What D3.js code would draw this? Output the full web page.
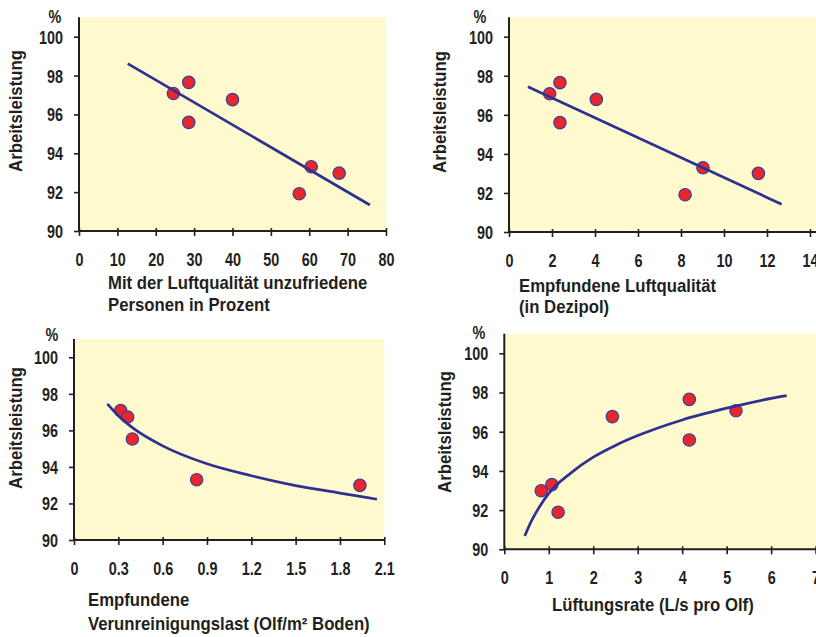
<!DOCTYPE html>
<html lang="de">
<head>
<meta charset="UTF-8">
<title>Arbeitsleistung und Luftqualität</title>
<style>
    body {
        margin: 0;
        padding: 0;
        background: #fff;
    }

    svg text {
        font-family: "Liberation Sans", Arial, sans-serif;
        font-weight: bold;
        fill: #231f20;
    }
</style>
</head>
<body>
<div id="chart"></div>
<script src="https://cdn.jsdelivr.net/npm/d3@7"></script>
<script>
    // y axis is the same for all four panels
    const yTicks = [90, 92, 94, 96, 98, 100];

    // panel 1: unzufriedene Personen (%)
    const dissatTicks = [0, 10, 20, 30, 40, 50, 60, 70, 80];
    const dissatX = [24.6, 28.6, 28.6, 40, 57.4, 60.5, 67.8];
    const dissatY = [97.08, 97.65, 95.59, 96.76, 91.92, 93.31, 92.98];
    const dissatFit = [[12.7, 98.61], [75.8, 91.34]];

    // panel 2: empfundene Luftqualität (Dezipol)
    const dezipolTicks = [0, 2, 4, 6, 8, 10, 12, 14];
    const dezipolX = [1.89, 2.37, 2.37, 4.06, 8.19, 9.02, 11.6];
    const dezipolY = [97.08, 97.65, 95.6, 96.79, 91.91, 93.29, 93.0];
    const dezipolFit = [[0.88, 97.44], [12.68, 91.42]];

    // panel 3: Verunreinigungslast (Olf/m²)
    const olfTicks = [0, 0.3, 0.6, 0.9, 1.2, 1.5, 1.8, 2.1];
    const olfTickLabels = ["0", "0.3", "0.6", "0.9", "1.2", "1.5", "1.8", "2.1"];
    const olfX = [0.316, 0.363, 0.395, 0.83, 1.935];
    const olfY = [97.08, 96.73, 95.53, 93.3, 92.99];
    const olfFit = [[0.226, 97.45], [0.3, 96.8], [0.4, 96.12], [0.6, 95.15], [0.9, 94.17],
        [1.2, 93.52], [1.5, 92.98], [1.8, 92.57], [2.05, 92.23]];

    // panel 4: Lüftungsrate (L/s pro Olf)
    const ventTicks = [0, 1, 2, 3, 4, 5, 6, 7];
    const ventX = [0.83, 1.07, 1.21, 2.43, 4.16, 4.16, 5.21];
    const ventY = [92.99, 93.3, 91.89, 96.77, 97.65, 95.58, 97.07];
    const ventFit = [[0.46, 90.68], [0.6, 91.4], [0.8, 92.2], [1, 92.85], [1.5, 93.9], [2, 94.7],
        [2.5, 95.3], [3, 95.8], [4, 96.6], [5, 97.2], [6, 97.7], [6.35, 97.84]];

    const w = 816;
    const h = 637;

    const bg = "#fffacd";
    const ink = "#231f20";
    const lineColor = "#2e3192";
    const dotFill = "#e8262b";
    const dotStroke = "#3b3f9c";

    // the original uses a condensed face; squeeze Liberation Sans horizontally
    const fontSize = 18;
    const digitScale = 0.8;
    const titleScale = 0.93;

    function squeeze(sel, s) {
        sel.each(function () {
            const t = d3.select(this);
            const x = +t.attr("x") || 0;
            const tr = t.attr("transform") || "";
            t.attr("x", x / s).attr("transform", `${tr} scale(${s},1)`);
        });
    }

    const panels = [
        {
            xs: dissatX, ys: dissatY, fit: dissatFit, ticks: dissatTicks,
            left: 79, right: 386, bgRight: 386, y90: 231, y100: 36.7,
            pct: [55, 22.7], yTitle: [22, 111],
            xTitle: ["Mit der Luftqualität unzufriedene", "Personen in Prozent"],
            xTitlePos: [108, 289.3], gap: 21.4
        },
        {
            xs: dezipolX, ys: dezipolY, fit: dezipolFit, ticks: dezipolTicks,
            left: 509, right: 810, bgRight: 816, y90: 232, y100: 36.7,
            pct: [480, 22.7], yTitle: [446, 112],
            xTitle: ["Empfundene Luftqualität", "(in Dezipol)"],
            xTitlePos: [519, 292.3], gap: 20.4
        },
        {
            xs: olfX, ys: olfY, fit: olfFit, ticks: olfTicks, labels: olfTickLabels,
            left: 74, right: 384.3, bgRight: 384.3, y90: 540, y100: 357.3,
            pct: [52, 341], yTitle: [22, 428],
            xTitle: ["Empfundene", "Verunreinigungslast (Olf/m² Boden)"],
            xTitlePos: [88, 606], gap: 24, curve: true
        },
        {
            xs: ventX, ys: ventY, fit: ventFit, ticks: ventTicks,
            left: 504.3, right: 815.6, bgRight: 816, y90: 549.3, y100: 353.3,
            pct: [479, 339], yTitle: [451, 432],
            xTitle: ["Lüftungsrate (L/s pro Olf)"],
            xTitlePos: [552, 610.7], gap: 21, curve: true
        }
    ];

    const svg = d3.select("#chart")
        .append("svg")
        .attr("width", w)
        .attr("height", h);

    panels.forEach((p) => {
        const ticks = p.ticks;
        const x = d3.scaleLinear()
            .domain([0, ticks[ticks.length - 1]])
            .range([p.left, p.right]);
        const y = d3.scaleLinear()
            .domain([90, 100])
            .range([p.y90, p.y100]);

        const g = svg.append("g");

        // yellow plot area, up to 101 %
        g.append("rect")
            .attr("x", p.left)
            .attr("y", y(101))
            .attr("width", p.bgRight - p.left)
            .attr("height", y(90) - y(101))
            .attr("fill", bg);

        // x axis, ticks cross the line
        const xAxis = g.append("g")
            .attr("transform", `translate(0, ${y(90)})`)
            .call(d3.axisBottom(x)
                .tickValues(ticks)
                .tickSizeInner(5)
                .tickSizeOuter(0)
                .tickFormat((d, i) => p.labels ? p.labels[i] : d));
        xAxis.select(".domain").attr("stroke", ink).attr("stroke-width", 2)
            .attr("d", `M${p.left},0H${p.bgRight}`);
        xAxis.selectAll(".tick line").attr("stroke", ink).attr("stroke-width", 1.6).attr("y1", -3);
        xAxis.selectAll(".tick text")
            .attr("font-size", fontSize)
            .attr("fill", ink)
            .attr("dy", null)
            .attr("y", 35)
            .call(squeeze, digitScale);

        // y axis
        const yAxis = g.append("g")
            .attr("transform", `translate(${p.left}, 0)`)
            .call(d3.axisLeft(y)
                .tickValues(yTicks)
                .tickSizeInner(5)
                .tickSizeOuter(0)
                .tickPadding(11));
        yAxis.select(".domain").attr("stroke", ink).attr("stroke-width", 2)
            .attr("d", `M0,${y(101)}V${y(90)}`);
        yAxis.selectAll(".tick line").attr("stroke", ink).attr("stroke-width", 1.6);
        yAxis.selectAll(".tick text")
            .attr("font-size", fontSize)
            .attr("fill", ink)
            .attr("dy", "0.36em")
            .call(squeeze, digitScale);

        // data points
        g.selectAll("circle")
            .data(p.xs)
            .enter()
            .append("circle")
            .attr("cx", (d) => x(d))
            .attr("cy", (d, i) => y(p.ys[i]))
            .attr("r", 6.2)
            .attr("fill", dotFill)
            .attr("stroke", dotStroke)
            .attr("stroke-width", 1.2);

        // trend line / curve
        const line = d3.line()
            .x((d) => x(d[0]))
            .y((d) => y(d[1]))
            .curve(p.curve ? d3.curveMonotoneX : d3.curveLinear);
        g.append("path")
            .attr("d", line(p.fit))
            .attr("fill", "none")
            .attr("stroke", lineColor)
            .attr("stroke-width", 2.7);

        // labels
        g.append("text")
            .attr("x", p.pct[0])
            .attr("y", p.pct[1])
            .attr("text-anchor", "middle")
            .attr("font-size", fontSize)
            .text("%")
            .call(squeeze, digitScale);

        g.append("text")
            .attr("transform", `translate(${p.yTitle[0]}, ${p.yTitle[1]}) rotate(-90)`)
            .attr("text-anchor", "middle")
            .attr("font-size", fontSize)
            .text("Arbeitsleistung")
            .call(squeeze, titleScale);

        p.xTitle.forEach((t, i) => {
            g.append("text")
                .attr("x", p.xTitlePos[0])
                .attr("y", p.xTitlePos[1] + i * p.gap)
                .attr("font-size", fontSize)
                .text(t)
                .call(squeeze, titleScale);
        });
    });
</script>
</body>
</html>
